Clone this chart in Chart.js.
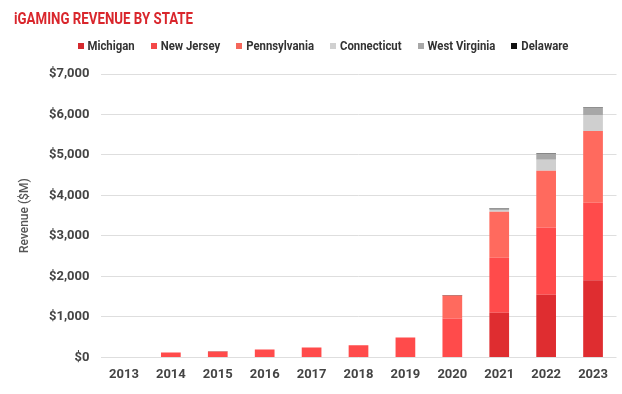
<!DOCTYPE html>
<html>
<head>
<meta charset="utf-8">
<script src="https://cdn.jsdelivr.net/npm/chart.js@4.4.0/dist/chart.umd.min.js"></script>
<style>
  html, body { margin: 0; padding: 0; background: #fff; }
  #wrap { width: 622px; height: 394px; position: relative; }
</style>
</head>
<body>
<div id="wrap"><canvas id="c" width="622" height="394"></canvas></div>
<script>
const years = ['2013','2014','2015','2016','2017','2018','2019','2020','2021','2022','2023'];
const michigan     = [0, 0, 0, 0, 0, 0, 0, 0, 1100, 1545, 1905];
const newJersey    = [8, 122, 147, 195, 244, 298, 490, 960, 1360, 1665, 1912];
const pennsylvania = [0, 0, 0, 0, 0, 0, 0, 570, 1138, 1402, 1773];
const connecticut  = [0, 0, 0, 0, 0, 0, 0, 0, 40, 272, 396];
const westVirginia = [0, 0, 0, 0, 0, 0, 0, 0, 38, 140, 180];
const delaware     = [2, 2, 2, 2, 3, 3, 4, 10, 16, 15, 15];
const yTicks = [0, 1000, 2000, 3000, 4000, 5000, 6000, 7000];

const seriesNames  = ['Michigan', 'New Jersey', 'Pennsylvania', 'Connecticut', 'West Virginia', 'Delaware'];
const seriesColors = ['#df2d30', '#ff4b4b', '#ff6a5e', '#cfcfcf', '#a7a7a7', '#111111'];
const legendColors = ['#d42a2e', '#f44848', '#f5675b', '#d0d0d0', '#a8a8a8', '#111111'];

const FONT = "Roboto, 'DejaVu Sans', sans-serif";

const headerPlugin = {
  id: 'header',
  afterDraw(chart) {
    const ctx = chart.ctx;
    ctx.save();
    ctx.font = "bold 16px " + FONT;
    const title = 'iGAMING REVENUE BY STATE';
    const tw = ctx.measureText(title).width;
    const tScale = 179 / tw;
    ctx.fillStyle = '#d9262c';
    ctx.textBaseline = 'alphabetic';
    ctx.textAlign = 'left';
    ctx.setTransform(tScale, 0, 0, 1, 14, 0);
    ctx.fillText(title, 0, 24);
    ctx.setTransform(1, 0, 0, 1, 0, 0);

    ctx.font = "bold 13px " + FONT;
    const box = 6, gapText = 4, gapItem = 16;
    const widths = seriesNames.map(n => ctx.measureText(n).width);
    const targetTextTotal = 50 + 59 + 70 + 63 + 71 + 38;
    const lScale = targetTextTotal / widths.reduce((a, b) => a + b, 0);
    let total = 0;
    widths.forEach((w, i) => { total += box + gapText + w * lScale + (i < widths.length - 1 ? gapItem : 0); });
    let x = 323 - total / 2;
    const cy = 46;
    ctx.textBaseline = 'middle';
    seriesNames.forEach((n, i) => {
      ctx.fillStyle = legendColors[i];
      ctx.fillRect(Math.round(x), cy - 3, box, box);
      x += box + gapText;
      ctx.fillStyle = '#333';
      ctx.setTransform(lScale, 0, 0, 1, x, 0);
      ctx.fillText(n, 0, cy + 0.5);
      ctx.setTransform(1, 0, 0, 1, 0, 0);
      x += widths[i] * lScale + gapItem;
    });
    ctx.restore();
  }
};

const fmt = v => '$' + Number(v).toLocaleString('en-US');

const datasetsArr = [michigan, newJersey, pennsylvania, connecticut, westVirginia, delaware].map((d, i) => ({
  label: seriesNames[i], data: d, backgroundColor: seriesColors[i]
}));

new Chart(document.getElementById('c'), {
  type: 'bar',
  data: { labels: years, datasets: datasetsArr },
  options: {
    responsive: false,
    animation: false,
    layout: { padding: { top: 74, right: 5.5, left: 14, bottom: 9 } },
    datasets: { bar: { barPercentage: 0.42, categoryPercentage: 1.0 } },
    plugins: {
      title: { display: false },
      tooltip: { enabled: false },
      legend: { display: false }
    },
    scales: {
      x: {
        stacked: true,
        grid: { display: false },
        border: { display: false },
        ticks: { color: '#444', font: { family: FONT, size: 13, weight: 'bold' }, padding: 2 }
      },
      y: {
        stacked: true,
        min: 0, max: 7000,
        afterBuildTicks(axis) { axis.ticks = yTicks.map(v => ({ value: v })); },
        afterFit(axis) { axis.width = 86.5; },
        grid: { color: '#dedede', lineWidth: 1, drawTicks: false },
        border: { display: false },
        ticks: { color: '#444', font: { family: FONT, size: 13, weight: 'bold' }, padding: 11, callback: v => fmt(v) },
        title: { display: true, text: 'Revenue ($M)', color: '#555', font: { family: FONT, size: 12, weight: '500' }, padding: { bottom: 0 } }
      }
    }
  },
  plugins: [headerPlugin]
});
</script>
</body>
</html>
